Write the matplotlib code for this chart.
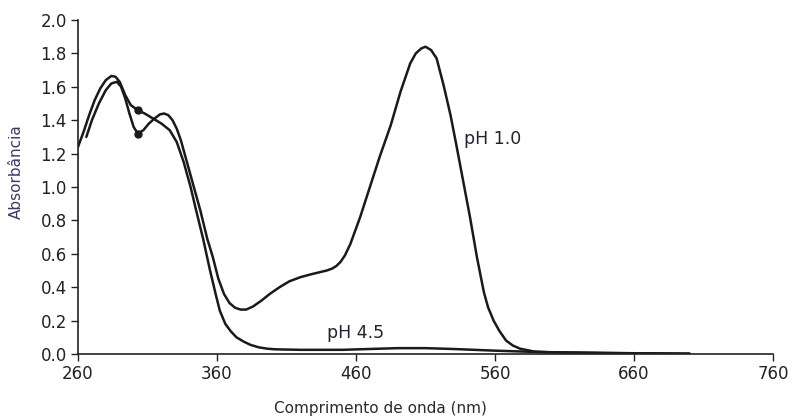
import matplotlib
matplotlib.use("Agg")
import matplotlib.pyplot as plt

# pH 1.0 spectrum (wavelength nm, absorbance)
wl_ph1 = [266, 270, 275, 280, 284, 288, 291, 294, 297, 300, 303, 307, 311, 315, 319,
          322, 325, 328, 331, 334, 338, 343, 348, 353, 357, 361, 365, 369, 373, 377,
          381, 386, 392, 398, 405, 412, 420, 428, 434, 439, 443, 446, 449, 452, 456,
          463, 470, 477, 485, 492, 499, 503, 507, 510, 514, 518, 523, 528, 532, 537,
          542, 547, 552, 555, 559, 563, 568, 573, 578, 588, 600, 620, 650, 680, 700]
ab_ph1 = [1.30, 1.40, 1.50, 1.58, 1.62, 1.63, 1.60, 1.53, 1.44, 1.36, 1.32, 1.34, 1.38,
          1.41, 1.435, 1.44, 1.43, 1.40, 1.35, 1.28, 1.16, 1.01, 0.86, 0.69, 0.58, 0.45,
          0.36, 0.305, 0.277, 0.266, 0.266, 0.285, 0.32, 0.36, 0.40, 0.435, 0.46, 0.478,
          0.49, 0.50, 0.512, 0.528, 0.553, 0.59, 0.66, 0.82, 1.00, 1.18, 1.37, 1.57,
          1.74, 1.80, 1.83, 1.84, 1.82, 1.77, 1.61, 1.43, 1.26, 1.04, 0.82, 0.58, 0.37,
          0.28, 0.20, 0.14, 0.08, 0.05, 0.032, 0.015, 0.01, 0.008, 0.005, 0.003, 0.002]

# pH 4.5 spectrum
wl_ph45 = [260, 264, 268, 272, 276, 280, 284, 287, 290, 294, 298, 303, 308, 315, 320,
           326, 331, 336, 341, 345, 350, 355, 359, 362, 366, 370, 374, 379, 384, 390,
           396, 402, 420, 450, 470, 490, 510, 530, 560, 590, 640, 700]
ab_ph45 = [1.24, 1.33, 1.43, 1.52, 1.59, 1.64, 1.665, 1.66, 1.63, 1.55, 1.49, 1.46,
           1.44, 1.405, 1.38, 1.34, 1.27, 1.15, 1.00, 0.86, 0.69, 0.50, 0.36, 0.26, 0.18,
           0.135, 0.10, 0.075, 0.055, 0.04, 0.032, 0.028, 0.025, 0.025, 0.03, 0.035,
           0.035, 0.03, 0.02, 0.012, 0.006, 0.002]

# marked points
dot_wl = [303, 303]
dot_ab = [1.46, 1.32]

xticks = [260, 360, 460, 560, 660, 760]
yticks = [0.0, 0.2, 0.4, 0.6, 0.8, 1.0, 1.2, 1.4, 1.6, 1.8, 2.0]

fig = plt.figure(figsize=(7.92, 4.17), dpi=100)
ax = fig.add_axes([78 / 792, 1 - 354 / 417, 695 / 792, 334 / 417])

lc = "#1a1a1a"
ax.plot(wl_ph1, ab_ph1, color=lc, lw=1.8, solid_capstyle="round", solid_joinstyle="round")
ax.plot(wl_ph45, ab_ph45, color=lc, lw=1.8, solid_capstyle="round", solid_joinstyle="round")
ax.plot(dot_wl, dot_ab, "o", color=lc, ms=5)

ax.set_xlim(260, 760)
ax.set_ylim(0, 2.0)
ax.set_xticks(xticks)
ax.set_xticklabels([str(t) for t in xticks])
ax.set_yticks(yticks)
ax.set_yticklabels([f"{t:.1f}" for t in yticks])
ax.tick_params(direction="out", length=5, width=1, labelsize=12, colors="#222222", pad=3)

for s in ["top", "right"]:
    ax.spines[s].set_visible(False)
for s in ["left", "bottom"]:
    ax.spines[s].set_color("#222222")
    ax.spines[s].set_linewidth(1.2)

ax.set_xlabel("Comprimento de onda (nm)", fontsize=11, color="#2a2a2a", va="center")
ax.xaxis.set_label_coords(0.435, -0.162)
ax.set_ylabel("Absorbância", fontsize=11, color="#3b3b66", va="center")
ax.yaxis.set_label_coords(-0.088, 0.545)

ax.text(538, 1.29, "pH 1.0", fontsize=12.5, color="#222233", va="center", ha="left")
ax.text(439, 0.126, "pH 4.5", fontsize=12.5, color="#222233", va="center", ha="left")

fig.savefig("out.png", dpi=100)
